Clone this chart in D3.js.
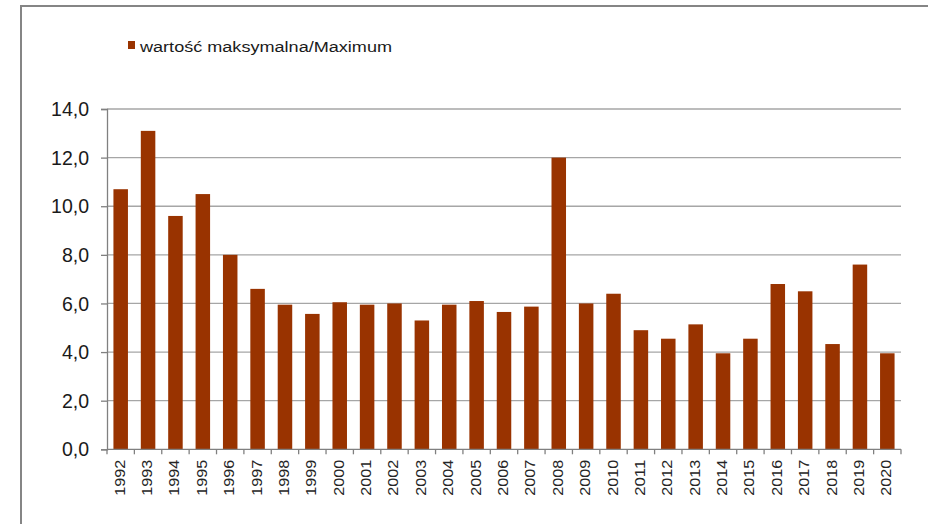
<!DOCTYPE html>
<html><head><meta charset="utf-8">
<script src="https://cdn.jsdelivr.net/npm/d3@7"></script>
<style>body{margin:0;background:#fff}svg{display:block}text{font-family:"Liberation Sans",Arial,sans-serif}</style>
</head><body>
<script>
const years = ["1992","1993","1994","1995","1996","1997","1998","1999","2000","2001","2002","2003","2004","2005","2006","2007","2008","2009","2010","2011","2012","2013","2014","2015","2016","2017","2018","2019","2020"];
const maxValues = [10.7,13.1,9.6,10.5,8.0,6.6,5.95,5.57,6.05,5.95,6.0,5.3,5.95,6.1,5.65,5.87,12.0,6.0,6.4,4.9,4.55,5.14,3.95,4.55,6.8,6.5,4.33,7.6,3.95];
const yTicks = [0,2,4,6,8,10,12,14];
const seriesName = "wartość maksymalna/Maximum";
const barColor = "#993300";

const W=928,H=524;
const svg=d3.select("body").append("svg").attr("width",W).attr("height",H);
// frame
svg.append("path").attr("d","M21,530 L21,6 L935,6").attr("fill","none").attr("stroke","#858585").attr("stroke-width",2);

const x=d3.scaleBand().domain(years).range([107,901]).paddingInner(0.47).paddingOuter(0.235);
const y=d3.scaleLinear().domain([0,14]).range([449.3,109]);

// gridlines
svg.append("g").selectAll("line").data(yTicks.slice(1)).join("line")
  .attr("x1",107).attr("x2",901).attr("y1",d=>y(d)).attr("y2",d=>y(d))
  .attr("stroke","#a6a6a6").attr("stroke-width",1.3);

// bars
svg.append("g").selectAll("rect").data(maxValues).join("rect")
  .attr("x",(d,i)=>x(years[i])).attr("width",x.bandwidth())
  .attr("y",d=>y(d)).attr("height",d=>y(0)-y(d)).attr("fill",barColor);

// y axis
const ya=svg.append("g").attr("transform","translate(107,0)")
  .call(d3.axisLeft(y).tickValues(yTicks).tickSize(6).tickPadding(12).tickFormat(d=>d3.format(".1f")(d).replace(".",",")));
ya.select(".domain").attr("stroke","#808080").attr("stroke-width",1.3);
ya.selectAll(".tick line").attr("stroke","#808080").attr("stroke-width",1.3);
ya.selectAll("text").attr("font-size",19.5).attr("fill","#1a1a1a").attr("dy","0.34em");

// x axis
const xo=d3.scalePoint().domain(d3.range(years.length+1)).range([107,901]);
const xa=svg.append("g").attr("transform","translate(0,449.3)");
xa.append("line").attr("x1",107).attr("x2",901).attr("stroke","#808080").attr("stroke-width",1.3);
xa.selectAll(".tk").data(d3.range(years.length+1)).join("line").attr("class","tk")
  .attr("x1",d=>xo(d)).attr("x2",d=>xo(d)).attr("y1",0).attr("y2",5)
  .attr("stroke","#808080").attr("stroke-width",1.3);
xa.selectAll(".lbl").data(years).join("text").attr("class","lbl")
  .attr("transform",d=>`translate(${x(d)+x.bandwidth()/2+4},10.5) rotate(-90)`)
  .attr("text-anchor","end").attr("font-size",14.5).attr("fill","#262626")
  .attr("textLength",36).attr("lengthAdjust","spacingAndGlyphs").text(d=>d);

// legend
svg.append("rect").attr("x",128).attr("y",41).attr("width",7).attr("height",8).attr("fill",barColor);
svg.append("text").attr("x",140).attr("y",51.5).attr("font-size",15.5).attr("fill","#1a1a1a")
  .attr("textLength",252).attr("lengthAdjust","spacingAndGlyphs").text(seriesName);
</script>
</body></html>
